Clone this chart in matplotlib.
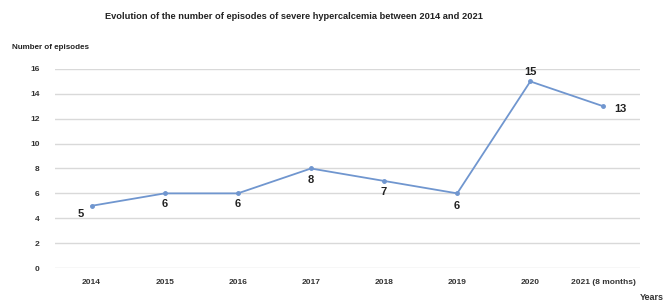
import matplotlib.pyplot as plt

years = ['2014', '2015', '2016', '2017', '2018', '2019', '2020', '2021 (8 months)']
episodes = [5, 6, 6, 8, 7, 6, 15, 13]
yticks = [0, 2, 4, 6, 8, 10, 12, 14, 16]

plt.rcParams['font.family'] = ['Liberation Sans', 'DejaVu Sans']

def main():
    fig = plt.figure(figsize=(6.67, 3.05), dpi=100)
    ax = fig.add_axes([0.0825, 0.1213, 0.877, 0.6525])

    x = list(range(len(years)))
    ax.plot(x, episodes, color='#7096cf', lw=1.3, marker='o', ms=2.5, clip_on=False, zorder=3)

    # value labels, placed like the original
    offsets = [(-8, -6), (0, -8), (0, -8), (0, -8), (0, -8), (0, -9), (0, 7), (12, -2)]
    for xi, v, (dx, dy) in zip(x, episodes, offsets):
        ax.annotate(str(v), (xi, v), xytext=(dx, dy), textcoords='offset points',
                    ha='center', va='center', fontsize=8, fontweight='bold', color='#222222')

    ax.set_xlim(-0.5, len(years) - 0.5)
    ax.set_ylim(0, 16)
    ax.set_xticks(x)
    ax.set_xticklabels(years, fontsize=6, fontweight='bold', color='#333333')
    ax.set_yticks(yticks)
    ax.set_yticklabels([str(t) for t in yticks], fontsize=6, fontweight='bold', color='#333333')
    ax.tick_params(length=0, pad=8)
    ax.tick_params(axis='y', pad=11)
    ax.grid(axis='y', color='#d9d9d9', lw=1)
    ax.set_axisbelow(True)
    for s in ax.spines.values():
        s.set_visible(False)

    fig.text(0.44, 0.945, 'Evolution of the number of episodes of severe hypercalcemia between 2014 and 2021',
             ha='center', va='center', fontsize=6.7, fontweight='bold', color='#222222')
    fig.text(0.018, 0.845, 'Number of episodes', ha='left', va='center', fontsize=5.8,
             fontweight='bold', color='#222222')
    fig.text(0.995, 0.025, 'Years', ha='right', va='center', fontsize=6.5,
             fontweight='bold', color='#333333')

    fig.savefig('out.png', dpi=100)

if __name__ == "__main__":
    main()
